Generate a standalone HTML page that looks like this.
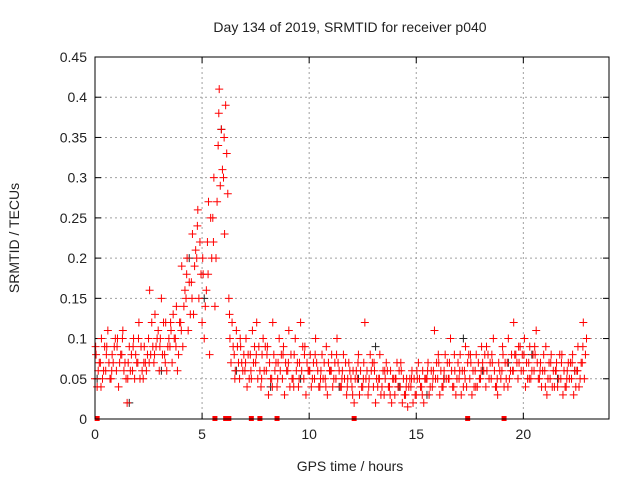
<!DOCTYPE html>
<html><head><meta charset="utf-8"><style>
body{margin:0;background:#fff}
svg text{font-family:"Liberation Sans",sans-serif;font-size:14px;fill:#222}
</style></head><body>
<svg id="chart" width="640" height="480" xmlns="http://www.w3.org/2000/svg">
<text x="350" y="32" text-anchor="middle">Day 134 of 2019, SRMTID for receiver p040</text>
<text x="350" y="471" text-anchor="middle">GPS time / hours</text>
<text transform="translate(19,238) rotate(-90)" text-anchor="middle">SRMTID / TECUs</text>
<g id="grid"></g>
<g id="ticks"></g>
<g id="black"></g>
<g id="red"></g>
<g id="gaps"></g>
<rect x="95" y="57" width="514" height="362" fill="none" stroke="#000" stroke-width="1"/>
</svg>
<script>
const xTicks=[0,5,10,15,20];
const yTicks=[0,0.05,0.1,0.15,0.2,0.25,0.3,0.35,0.4,0.45];
const yTickLabels=["0","0.05","0.1","0.15","0.2","0.25","0.3","0.35","0.4","0.45"];
const redT=[0,0.25,0.5,0.75,1,1.25,1.5,1.75,2,2.25,2.5,2.75,3,3.25,3.5,3.75,4,4.25,4.5,4.75,5,5.25,5.5,5.75,6,6.25,6.5,6.75,7,7.25,7.5,7.75,8,8.25,8.5,8.75,9,9.25,9.5,9.75,10,10.25,10.5,10.75,11,11.25,11.5,11.75,12,12.25,12.5,12.75,13,13.25,13.5,13.75,14,14.25,14.5,14.75,15,15.25,15.5,15.75,16,16.25,16.5,16.75,17,17.25,17.5,17.75,18,18.25,18.5,18.75,19,19.25,19.5,19.75,20,20.25,20.5,20.75,21,21.25,21.5,21.75,22,22.25,22.5,22.75];
const redA=[.05,.07,.06,.05,.06,.08,.02,.06,.07,.05,.1,.07,.06,.08,.09,.1,.12,.15,.17,.2,.12,.22,.25,.34,.3,.15,.08,.05,.06,.08,.07,.04,.06,.05,.04,.05,.06,.05,.04,.05,.06,.05,.04,.05,.06,.05,.04,.03,.04,.05,.04,.03,.04,.05,.03,.04,.03,.04,.03,.04,.03,.04,.05,.04,.05,.04,.05,.04,.05,.06,.05,.06,.05,.04,.05,.04,.06,.07,.06,.05,.06,.07,.06,.05,.06,.05,.06,.05,.04,.05,.06,.07];
const redB=[.08,.1,.09,.08,.1,.11,.07,.1,.12,.09,.16,.13,.1,.12,.11,.14,.19,.2,.23,.26,.18,.27,.3,.41,.23,.1,.06,.09,.1,.05,.12,.08,.09,.12,.07,.09,.11,.08,.07,.09,.08,.1,.06,.09,.08,.1,.06,.05,.06,.08,.07,.05,.06,.08,.05,.06,.05,.06,.05,.06,.05,.06,.07,.06,.07,.06,.07,.06,.08,.09,.07,.08,.09,.06,.07,.03,.08,.1,.12,.07,.1,.09,.08,.07,.09,.08,.07,.08,.06,.08,.09,.12];
const redC=[.04,.05,.11,.07,.04,.06,.09,.05,.05,.07,.08,.09,.15,.06,.07,.06,.09,.11,.13,.15,.1,.08,.14,.29,.39,.07,.11,.07,.04,.11,.05,.1,.03,.08,.1,.03,.04,.1,.12,.03,.04,.07,.08,.03,.04,.07,.08,.07,.02,.03,.12,.08,.02,.03,.07,.02,.07,.02,.015,.02,.07,.02,.03,.11,.03,.08,.1,.03,.03,.04,.03,.04,.07,.08,.1,.07,.04,.05,.08,.09,.04,.05,.11,.04,.03,.04,.04,.03,.07,.03,.04,.05];
const redD=[.06,.06,.07,.09,.07,.07,.06,.08,.09,.06,.12,.1,.08,.09,.13,.08,.14,.17,.19,.22,.14,.25,.2,.36,.33,.12,.09,.06,.08,.07,.09,.06,.07,.06,.06,.07,.08,.06,.06,.07,.05,.06,.05,.07,.05,.06,.05,.06,.05,.06,.05,.06,.05,.04,.06,.05,.04,.05,.04,.05,.05,.05,.04,.05,.06,.05,.06,.05,.06,.07,.06,.07,.06,.05,.06,.06,.07,.06,.08,.06,.07,.06,.07,.06,.05,.06,.05,.06,.05,.06,.05,.08];
const redE=[.07,.09,.05,.1,.08,.05,.08,.07,.06,.08,.09,.11,.12,.1,.1,.12,.16,.13,.21,.18,.16,.2,.27,.31,.28,.09,.07,.08,.05,.09,.06,.09,.05,.07,.08,.06,.05,.07,.09,.06,.07,.04,.07,.06,.07,.04,.07,.05,.06,.04,.06,.07,.04,.06,.04,.05,.06,.03,.05,.03,.04,.05,.06,.07,.04,.07,.04,.07,.04,.08,.04,.05,.08,.07,.04,.05,.05,.08,.07,.08,.05,.08,.05,.08,.07,.04,.08,.04,.07,.04,.07,.1];
const redF=[.09,.04,.08,.06,.09,.1,.05,.09,.1,.07,.07,.08,.09,.07,.12,.09,.11,.18,.15,.24,.2,.18,.22,.38,.35,.13,.05,.1,.07,.06,.08,.05,.08,.04,.05,.08,.07,.04,.05,.08,.06,.08,.05,.04,.06,.08,.05,.04,.03,.07,.05,.04,.07,.05,.06,.03,.05,.07,.04,.05,.06,.03,.06,.05,.08,.05,.05,.08,.06,.05,.08,.04,.06,.09,.08,.05,.09,.04,.06,.09,.08,.05,.09,.06,.04,.07,.06,.07,.05,.07,.06,.09];
const blackT=[0.1,1.6,3.1,4.4,5.1,5.9,6.6,8.2,9.6,11.4,12.3,13.1,14.2,15.5,16.3,17.2,18.1,19.3,20.4,21.6,22.4];
const blackV=[.05,.02,.06,.2,.15,.36,.06,.04,.05,.04,.05,.09,.04,.03,.05,.1,.06,.07,.08,.05,.06];
const gapT=[0.1,5.6,6.1,6.25,7.3,7.7,8.5,12.1,17.4,19.1];
const X0=95,X1=609,Y0=419,Y1=57,XMAX=24,YMAX=0.45;
const sx=t=>X0+(X1-X0)*t/XMAX, sy=v=>Y0-(Y0-Y1)*v/YMAX;
const NS="http://www.w3.org/2000/svg";
function mk(tag,attrs,parent){const e=document.createElementNS(NS,tag);for(const k in attrs)e.setAttribute(k,attrs[k]);parent.appendChild(e);return e;}
const grid=document.getElementById('grid'),ticks=document.getElementById('ticks');
yTicks.forEach((v,i)=>{const y=sy(v);
 if(i>0&&i<yTicks.length-1){const g=mk('line',{x1:X0,x2:X1,y1:y,y2:y,stroke:'#a0a0a0','stroke-dasharray':'2,3'},grid);}
 mk('line',{x1:X0,x2:X0+6,y1:y,y2:y,stroke:'#000'},ticks);mk('line',{x1:X1,x2:X1-6,y1:y,y2:y,stroke:'#000'},ticks);
 const t=mk('text',{x:X0-8,y:y+5,'text-anchor':'end'},ticks);t.textContent=yTickLabels[i];
 });
xTicks.forEach(v=>{const x=sx(v);
 if(v>0){const g=mk('line',{x1:x,x2:x,y1:Y0,y2:Y1,stroke:'#a0a0a0','stroke-dasharray':'2,3'},grid);}
 mk('line',{x1:x,x2:x,y1:Y0,y2:Y0-6,stroke:'#000'},ticks);mk('line',{x1:x,x2:x,y1:Y1,y2:Y1+6,stroke:'#000'},ticks);
 const t=mk('text',{x:x,y:Y0+20,'text-anchor':'middle'},ticks);t.textContent=String(v);
 });
function cross(g,t,v,c){const x=sx(t),y=sy(v);
 const p=mk('path',{d:`M${x-4},${y}h8M${x},${y-4}v8`,stroke:c,'stroke-width':1,fill:'none'},g);
 }
const red=document.getElementById('red'),black=document.getElementById('black');
blackT.forEach((t,i)=>cross(black,t,blackV[i],'#222'));
const offs=[0,0.05,0.1,0.15,0.2,0.03];
[redA,redB,redC,redD,redE,redF].forEach((arr,k)=>redT.forEach((t,i)=>cross(red,t+offs[k],arr[i],'#f00')));
const gaps=document.getElementById('gaps');
gapT.forEach(t=>{const r=mk('rect',{x:sx(t)-2.5,y:Y0-3,width:5,height:5,fill:'#f00'},gaps);
 });
</script>
</body></html>
